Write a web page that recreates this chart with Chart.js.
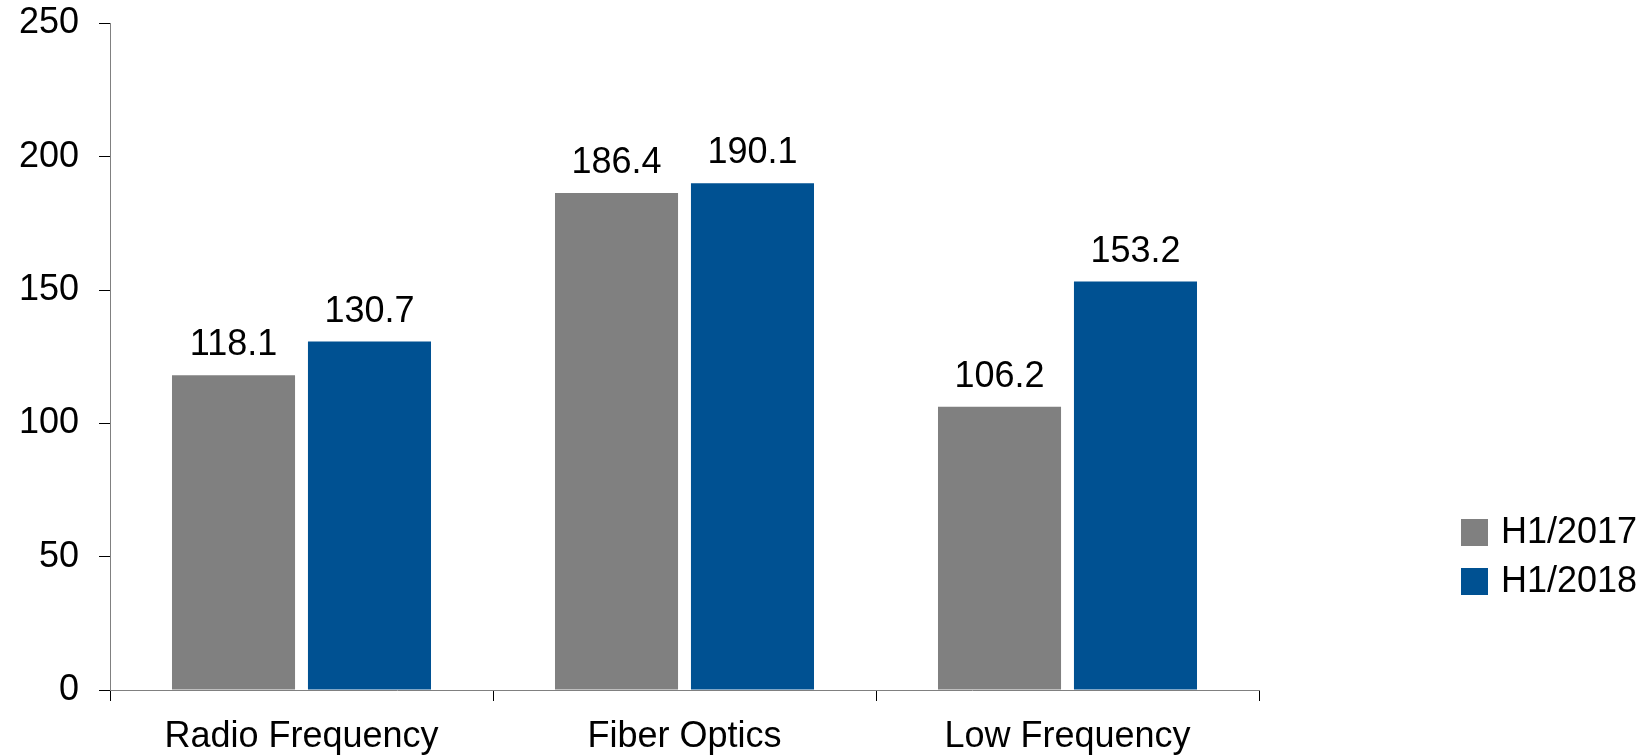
<!DOCTYPE html>
<html>
<head>
<meta charset="utf-8">
<script src="https://cdn.jsdelivr.net/npm/chart.js@4/dist/chart.umd.min.js"></script>
<style>
  html, body { margin: 0; padding: 0; background: #fff; }
  #wrap { width: 1647px; height: 755px; position: relative; }
</style>
</head>
<body>
<div id="wrap"><canvas id="c" width="1647" height="755"></canvas></div>
<script>
// Revenue by product segment, first half of each year
const categories = ['Radio Frequency', 'Fiber Optics', 'Low Frequency'];
const seriesLabels = ['H1/2017', 'H1/2018'];
const h1_2017 = [118.1, 186.4, 106.2];
const h1_2018 = [130.7, 190.1, 153.2];
const yTicks = [0, 50, 100, 150, 200, 250];

const FONT = '"Liberation Sans", Arial, Helvetica, sans-serif';
const GREY = '#808080';
const BLUE = '#005192';

// Value labels above each bar
const valueLabels = {
  id: 'valueLabels',
  afterDatasetsDraw(chart) {
    const ctx = chart.ctx;
    ctx.save();
    ctx.font = '36px ' + FONT;
    ctx.fillStyle = '#000';
    ctx.textAlign = 'center';
    ctx.textBaseline = 'alphabetic';
    chart.data.datasets.forEach((ds, i) => {
      chart.getDatasetMeta(i).data.forEach((bar, j) => {
        ctx.fillText(ds.data[j].toFixed(1), bar.x, bar.y - 20);
      });
    });
    ctx.restore();
  }
};

// Square-swatch legend in the right margin
const sideLegend = {
  id: 'sideLegend',
  afterDraw(chart) {
    const ctx = chart.ctx;
    ctx.save();
    ctx.font = '36px ' + FONT;
    ctx.textAlign = 'left';
    ctx.textBaseline = 'middle';
    const x = 1461, y0 = 519, box = 27, step = 49;
    chart.data.datasets.forEach((ds, i) => {
      const y = y0 + i * step;
      ctx.fillStyle = ds.backgroundColor;
      ctx.fillRect(x, y, box, box);
      ctx.fillStyle = '#000';
      ctx.fillText(ds.label, x + box + 13, y + box / 2 + 1);
    });
    ctx.restore();
  }
};

new Chart(document.getElementById('c'), {
  type: 'bar',
  data: {
    labels: categories,
    datasets: [
      { label: seriesLabels[0], data: h1_2017, backgroundColor: GREY },
      { label: seriesLabels[1], data: h1_2018, backgroundColor: BLUE }
    ]
  },
  options: {
    responsive: false,
    animation: false,
    devicePixelRatio: 1,
    categoryPercentage: 0.71,
    barPercentage: 0.905,
    layout: { padding: { top: 23.5, right: 388, bottom: 0, left: 0 } },
    plugins: { legend: { display: false }, tooltip: { enabled: false } },
    scales: {
      x: {
        afterFit(s) { s.height = 65; s.paddingLeft = 0; s.paddingRight = 0; },
        grid: {
          offset: true, drawOnChartArea: false, drawTicks: true,
          tickLength: 11, color: '#000', lineWidth: 1
        },
        border: { display: true, color: GREY, width: 1 },
        ticks: { color: '#000', font: { family: FONT, size: 36 }, padding: 14 }
      },
      y: {
        min: 0, max: 250,
        afterFit(s) { s.width = 110; s.paddingTop = 0; s.paddingBottom = 0; },
        afterBuildTicks(s) { s.ticks = yTicks.map(v => ({ value: v })); },
        grid: {
          drawOnChartArea: false, drawTicks: true,
          tickLength: 11, color: '#000', lineWidth: 1
        },
        border: { display: true, color: GREY, width: 1 },
        ticks: { color: '#000', font: { family: FONT, size: 36 }, padding: 20 }
      }
    }
  },
  plugins: [valueLabels, sideLegend]
});
</script>
</body>
</html>
